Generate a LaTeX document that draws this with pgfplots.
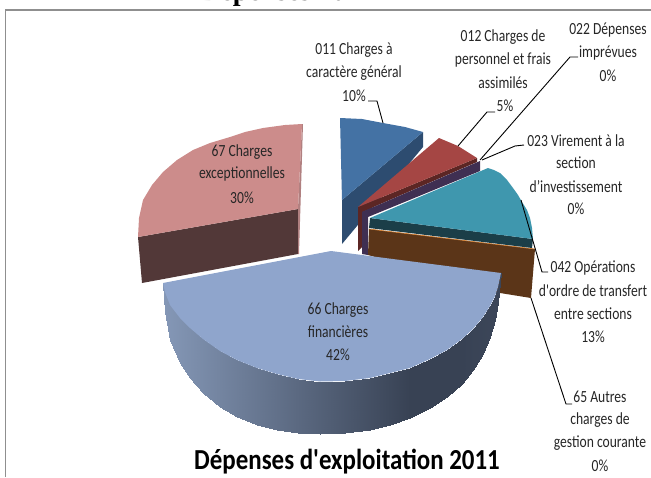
\documentclass[border=0pt]{standalone}
\usepackage{pgfplots}
\pgfplotsset{compat=1.18}
\usepackage{fontspec}
\setmainfont{Carlito}
\newfontfamily\lab[FakeStretch=0.80]{Carlito}
\newfontfamily\ttl[FakeStretch=0.86]{Carlito}
\newfontfamily\topt{Liberation Serif}
\definecolor{cBlue}{HTML}{4472A4}\definecolor{dBlue}{HTML}{2D4C70}
\definecolor{cRed}{HTML}{A54644}\definecolor{dRed}{HTML}{5C2624}
\definecolor{dPur}{HTML}{3F2F52}
\definecolor{cTeal}{HTML}{3F97AE}\definecolor{dTeal}{HTML}{1B3E48}
\definecolor{dBrown}{HTML}{5B3518}\definecolor{cOr}{HTML}{D8802E}
\definecolor{cPink}{HTML}{CC8C8B}\definecolor{dPink}{HTML}{523838}\definecolor{ePink}{HTML}{B08080}
\definecolor{cBig}{HTML}{8FA5CC}
\definecolor{frameC}{HTML}{8F8F8F}
\definecolor{txt}{HTML}{262626}
\tikzset{lbl/.style={font=\lab\fontsize{17}{23}\selectfont,text=txt,anchor=center,inner sep=0pt}}
\newcommand{\T}[3]{\node[lbl] at (axis cs:#1,#2) {#3};}
\begin{document}
\begin{tikzpicture}
\useasboundingbox (0,0) rectangle (651pt,477pt);
\clip (0,0) rectangle (651pt,477pt);
\begin{axis}[at={(0,0)},anchor=south west,scale only axis,width=651pt,height=477pt,
  xmin=0,xmax=651,ymin=0,ymax=477,y dir=reverse,axis lines=none,
  point meta min=0,point meta max=1,
  colormap={big}{rgb255(0)=(133,152,183); rgb255(1)=(56,66,84)}]
% frame
\addplot[frameC,line width=1.5pt] coordinates {(5.5,477)(5.5,10)(651,10)};
% pink
\addplot[fill=dPink,draw=none] coordinates {(138,237)(298,209)(298,254)(142,283)} --cycle;
\addplot[fill=ePink,draw=none] coordinates {(302,124)(298,209)(298,254)(299,254)(303,124)} --cycle;
\addplot[fill=cPink,draw=none] coordinates {(302,124)(285,125)(263,128)(245,132)(230,137)(210,143)(193,150)(177,160)(163,172)(152,185)(143,200)(139,218)(138,237)(298,209)} --cycle;
% blue
\addplot[fill=dBlue,draw=none] coordinates {(423,132)(423,147)(342,244)(342,200)} --cycle;
\addplot[fill=cBlue,draw=none] coordinates {(340,118)(362,119)(383,123)(405,127)(423,132)(342,200)} --cycle;
% red
\addplot[fill=dRed,draw=none] coordinates {(358,207)(477,158)(477,162)(362,212)(362,247)(358,251)} --cycle;
\addplot[fill=cRed,draw=none] coordinates {(358,207)(439,138)(458,146)(477,158)} --cycle;
% purple
\addplot[fill=dPur,draw=none] coordinates {(362,212)(480,161)(480,171)(368,217)(368,255)(362,254)} --cycle;
% brown
\addplot[fill=dBrown,draw=none] coordinates {(369,229)(535,249)(531,298)(500,293)(368,255)} --cycle;
\addplot[cOr,line width=0.6pt] coordinates {(369,229)(535,249)};
% teal
\addplot[fill=dTeal,draw=none] coordinates {(370,218)(533,239)(532,248)(369,228)} --cycle;
\addplot[fill=cTeal,draw=none] coordinates {(370,218)(488,168)(494,170)(500,173)(507,180)(513,188)(518,195)(522,202)(527,210)(530,218)(532,228)(533,239)} --cycle;
% big slice: side with gradient, then top
\addplot[surf,shader=interp,mesh/cols=2,mesh/rows=25,point meta=explicit,colormap name=big] table[meta=m] {
x y m
163 283 0
163 283 0
165 292 .01
165 312 .01
170 305 .03
170 340 .03
180 318 .07
180 363 .07
190 328 .11
190 378 .11
203 339 .16
203 393 .16
220 351 .23
220 407 .23
237 360 .30
237 417 .30
257 368 .38
257 425 .38
277 374 .46
277 430 .46
298 379 .55
298 433 .55
320 381.5 .64
320 434 .64
345 381 .74
345 433 .74
370 378 .84
370 430 .84
390 373 .92
390 425 .92
410 368 1
410 418 1
430 359 1
430 408 1
447 350 1
447 397 1
462 339 1
462 384 1
473 329 .98
473 370 .98
483 317 .97
483 354 .97
490 306 .96
490 337 .96
495 296 .96
495 320 .96
498 287 .96
498 303 .96
501 273 .96
501 273 .96
};
\addplot[fill=cBig,draw=none] coordinates {(331,251)(163,283)(165,292)(170,305)(180,318)(190,328)(203,339)(220,351)(237,360)(257,368)(277,374)(298,379)(320,381.5)(345,381)(370,378)(390,373)(410,368)(430,359)(447,350)(462,339)(473,329)(483,317)(490,306)(495,296)(498,287)(501,273)} --cycle;
% leaders
\addplot[black,line width=0.9pt] coordinates {(368,101)(377,101)(383,123)};
\addplot[black,line width=0.9pt] coordinates {(495,112)(487,112)(458,146)};
\addplot[black,line width=0.9pt] coordinates {(578,57)(570,57)(480,160)};
\addplot[black,line width=0.9pt] coordinates {(524,145)(515,146)(482,160)};
\addplot[black,line width=0.9pt] coordinates {(548,272)(542,272)(521,200)};
\addplot[black,line width=0.9pt] coordinates {(572,404)(566,404)(531,298)};
% labels
\T{354}{50}{011 Charges à}
\T{354}{73}{caractère général}
\T{354}{96}{10\%}
\T{503}{37}{012 Charges de}
\T{503}{60}{personnel et  frais}
\T{503}{83}{assimilés}
\T{505}{106}{5\%}
\T{608}{30}{022 Dépenses}
\T{608}{53}{imprévues}
\T{608}{76}{0\%}
\T{576}{141}{023 Virement à la}
\T{576}{163}{section}
\T{576}{187}{d’investissement}
\T{576}{209}{0\%}
\T{593}{268}{042 Opérations}
\T{593}{291}{d'ordre de transfert}
\T{593}{314}{entre sections}
\T{593}{337}{13\%}
\T{600}{397}{65 Autres}
\T{600}{420}{charges de}
\T{600}{443}{gestion courante}
\T{600}{466}{0\%}
\T{242}{152}{67 Charges}
\T{242}{174}{exceptionnelles}
\T{242}{198}{30\%}
\T{338}{310}{66 Charges}
\T{338}{332}{financières}
\T{338}{355}{42\%}
\node[anchor=base,inner sep=0pt,font=\ttl\bfseries\fontsize{29}{30}\selectfont] at (axis cs:347,469) {Dépenses d'exploitation 2011};
\node[anchor=base west,inner sep=0pt,font=\topt\bfseries\fontsize{28}{30}\selectfont] at (axis cs:200,0.5) {Dépenses 2011};
\end{axis}
\end{tikzpicture}
\end{document}
